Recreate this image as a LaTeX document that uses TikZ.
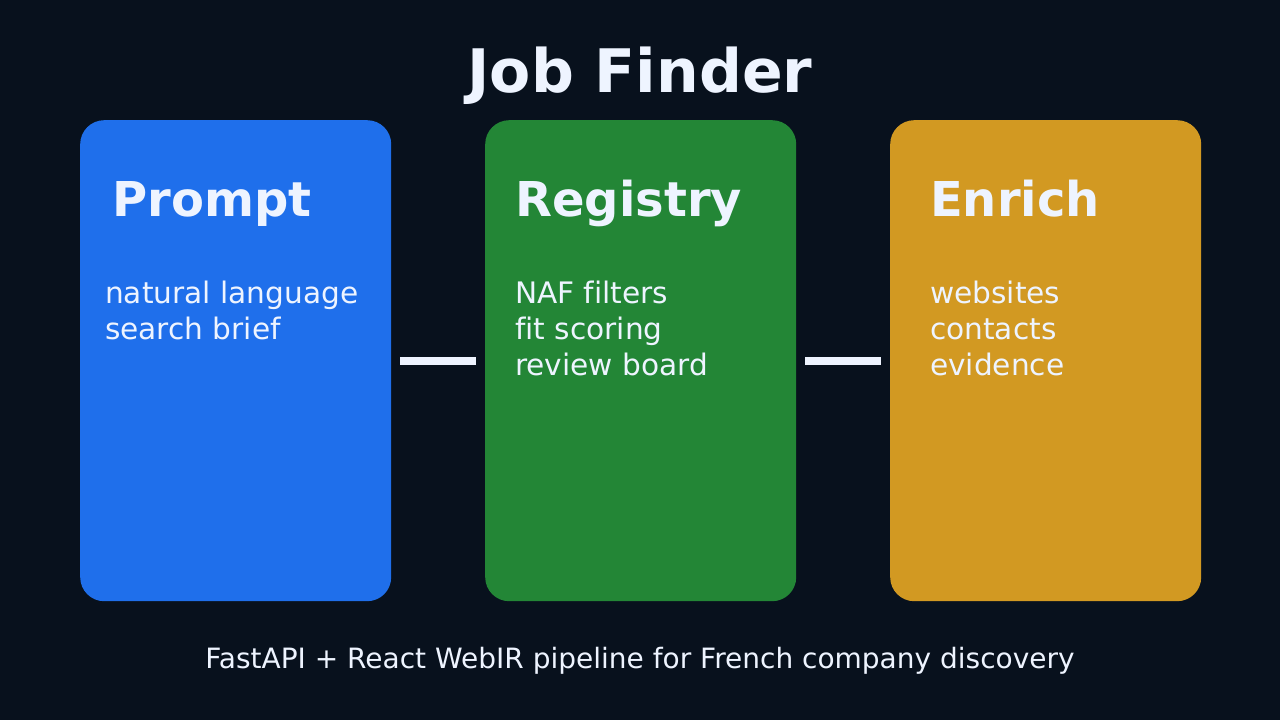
\documentclass[tikz,border=0pt]{standalone}
\usepackage{fontspec}
\setmainfont{DejaVu Sans}[Ligatures={NoCommon}]
\definecolor{bgc}{HTML}{08111D}
\definecolor{bluec}{HTML}{1F6FEB}
\definecolor{greenc}{HTML}{238636}
\definecolor{yellowc}{HTML}{D29922}
\definecolor{txtc}{HTML}{EEF4FF}
\begin{document}
\begin{tikzpicture}[x=1pt,y=-1pt,
  card/.style={rounded corners=24pt, minimum width=311pt, minimum height=481pt, inner sep=0pt, anchor=north west},
  cardtitle/.style={anchor=base west, inner sep=0pt, text=txtc, font=\fontsize{48}{58}\selectfont\bfseries},
  cardline/.style={anchor=base west, inner sep=0pt, text=txtc, font=\fontsize{29.6}{36}\selectfont},
  link/.style={draw=txtc, line width=8pt, line cap=butt}]
\useasboundingbox (0,0) rectangle (1280,720);
\fill[bgc] (0,0) rectangle (1280,720);
\node[anchor=base, inner sep=0pt, text=txtc, font=\fontsize{60}{72}\selectfont\bfseries] (title) at (640,92) {Job Finder};
\node[card, fill=bluec] (prompt) at (80,120) {};
\node[card, fill=greenc] (registry) at (485,120) {};
\node[card, fill=yellowc] (enrich) at (890,120) {};
\draw[link, shorten <=9pt, shorten >=9pt] (prompt.east) -- (registry.west);
\draw[link, shorten <=9pt, shorten >=9pt] (registry.east) -- (enrich.west);
\node[cardtitle] (t1) at (112,216) {Prompt};
\node[cardline] (p1) at (105,303) {natural language};
\node[cardline] (p2) at (105,339) {search brief};
\node[cardtitle] (t2) at (515,216) {Registry};
\node[cardline] (r1) at (515,303) {NAF filters};
\node[cardline] (r2) at (515,339) {fit scoring};
\node[cardline] (r3) at (515,375) {review board};
\node[cardtitle] (t3) at (930,216) {Enrich};
\node[cardline] (e1) at (930,303) {websites};
\node[cardline] (e2) at (930,339) {contacts};
\node[cardline] (e3) at (930,375) {evidence};
\node[anchor=base, inner sep=0pt, text=txtc, font=\fontsize{28}{34}\selectfont] (foot) at (640,668) {FastAPI + React WebIR pipeline for French company discovery};
\end{tikzpicture}
\end{document}
